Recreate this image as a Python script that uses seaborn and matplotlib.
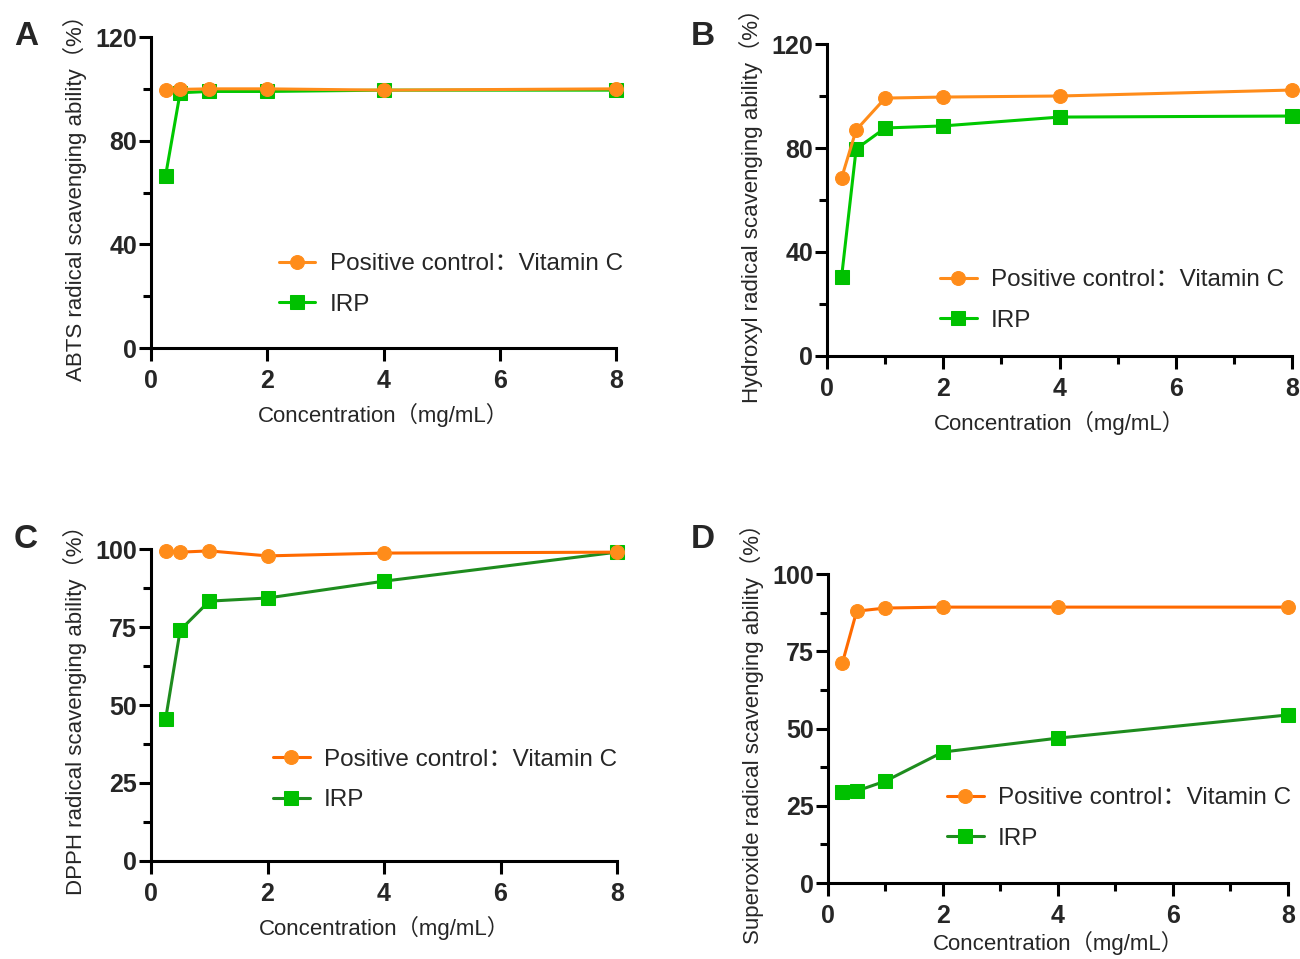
import matplotlib
matplotlib.use("Agg")
import matplotlib.pyplot as plt
import seaborn as sns
from matplotlib.ticker import MultipleLocator

sns.set_theme(style="ticks")
plt.rcParams['font.family'] = ['Liberation Sans', 'Noto Sans CJK SC', 'DejaVu Sans']

# Concentrations (mg/mL)
conc = [0.25, 0.5, 1, 2, 4, 8]

# A: ABTS
abts_vc = [99.5, 99.8, 100.0, 100.0, 99.5, 100.0]
abts_irp = [66.5, 98.5, 99.0, 99.0, 99.5, 99.5]
# B: Hydroxyl
oh_vc = [68.5, 86.9, 99.2, 99.6, 100.0, 102.3]
oh_irp = [30.4, 79.6, 87.7, 88.5, 91.9, 92.3]
# C: DPPH
dpph_vc = [99.4, 99.0, 99.4, 97.8, 98.7, 99.0]
dpph_irp = [45.5, 74.0, 83.3, 84.3, 89.7, 99.0]
# D: Superoxide
sup_vc = [71.2, 88.0, 89.0, 89.3, 89.3, 89.3]
sup_irp = [29.4, 29.8, 33.0, 42.4, 46.9, 54.4]

vc_label = "Positive control：Vitamin C"
irp_label = "IRP"
x_label = "Concentration（mg/mL）"

panels = [
    dict(letter="A", vc=abts_vc, irp=abts_irp, ylab="ABTS radical scavenging ability（%）",
         ylim=120, major=40, minor=20, xminor=False, vc_line="#FF8C1A", irp_line="#00C800",
         pos=[0.1162, 0.6371, 0.3577, 0.3243], leg=(0.275, 0.204), lpos=(0.020, 0.962), xpad=7),
    dict(letter="B", vc=oh_vc, irp=oh_irp, ylab="Hydroxyl radical scavenging ability（%）",
         ylim=120, major=40, minor=20, xminor=True, vc_line="#FF8C1A", irp_line="#00C800",
         pos=[0.6362, 0.6288, 0.3577, 0.3253], leg=(0.243, 0.178), lpos=(0.541, 0.962), xpad=7),
    dict(letter="C", vc=dpph_vc, irp=dpph_irp, ylab="DPPH radical scavenging ability（%）",
         ylim=100, major=25, minor=12.5, xminor=False, vc_line="#FF6A00", irp_line="#1E8C1E",
         pos=[0.1162, 0.1022, 0.3584, 0.3253], leg=(0.262, 0.26), lpos=(0.020, 0.437), xpad=7),
    dict(letter="D", vc=sup_vc, irp=sup_irp, ylab="Superoxide radical scavenging ability（%）",
         ylim=100, major=25, minor=12.5, xminor=True, vc_line="#FF6A00", irp_line="#1E8C1E",
         pos=[0.6369, 0.0792, 0.3538, 0.3222], leg=(0.259, 0.209), lpos=(0.541, 0.437), xpad=2),
]

fig = plt.figure(figsize=(13, 9.59), dpi=100)

for p in panels:
    ax = fig.add_axes(p["pos"])
    sns.lineplot(x=conc, y=p["vc"], ax=ax, color=p["vc_line"], linewidth=2.2,
                 marker="o", markersize=10, markerfacecolor="#FF8C1A",
                 markeredgecolor="#FF8C1A", label=vc_label, clip_on=False, zorder=4)
    sns.lineplot(x=conc, y=p["irp"], ax=ax, color=p["irp_line"], linewidth=2.2,
                 marker="s", markersize=10, markerfacecolor="#00C000",
                 markeredgecolor="#00C000", label=irp_label, clip_on=False, zorder=3)

    ax.set_xlim(0, 8)
    ax.set_ylim(0, p["ylim"])
    ax.set_xticks([0, 2, 4, 6, 8])
    if p["xminor"]:
        ax.xaxis.set_minor_locator(MultipleLocator(1))
    ax.yaxis.set_major_locator(MultipleLocator(p["major"]))
    ax.yaxis.set_minor_locator(MultipleLocator(p["minor"]))
    for s in ["top", "right"]:
        ax.spines[s].set_visible(False)
    for s in ["left", "bottom"]:
        ax.spines[s].set_linewidth(2.2)
        ax.spines[s].set_color("black")
    ax.tick_params(which="major", length=9, width=2.2, color="black", labelsize=18)
    ax.tick_params(axis="x", which="major", pad=6)
    ax.tick_params(axis="y", which="major", pad=1)
    ax.tick_params(which="minor", length=6, width=2.2, color="black")
    for t in ax.get_xticklabels() + ax.get_yticklabels():
        t.set_fontweight("bold")
    ax.set_xlabel(x_label, fontsize=16, labelpad=p["xpad"])
    ax.set_ylabel(p["ylab"], fontsize=16, labelpad=6)
    ax.set_facecolor("white")

    ax.legend(loc="center left", bbox_to_anchor=p["leg"], frameon=False, fontsize=17.5,
              borderpad=0, borderaxespad=0, handlelength=1.5, handletextpad=0.6,
              labelspacing=0.75)
    fig.text(p["lpos"][0], p["lpos"][1], p["letter"], fontsize=24, fontweight="bold",
             va="center", ha="center")

fig.savefig("out.png", dpi=100, facecolor="white")
